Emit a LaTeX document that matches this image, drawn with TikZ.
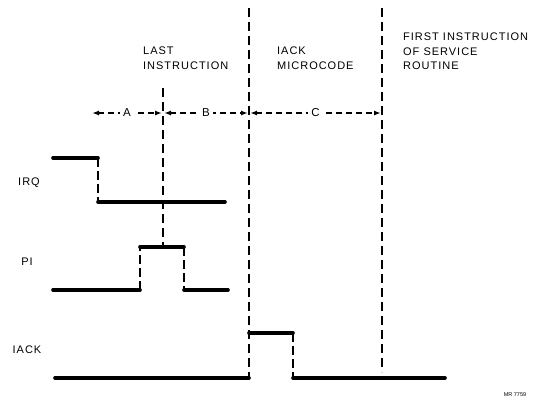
\documentclass[tikz,border=0pt]{standalone}
\usepackage{fontspec}
\setmainfont{Liberation Sans}
\newfontfamily\spacedfont{Liberation Sans}[LetterSpace=9]
\usetikzlibrary{arrows.meta, positioning}
\tikzset{
  sigline/.style={line width=3.6pt, line cap=round},
  sigedge/.style={line width=2.6pt, dash pattern=on 9pt off 4pt},
  guide/.style={line width=2.6pt, dash pattern=on 9pt off 5pt},
  span/.style={{Latex[length=7pt,width=5pt]}-{Latex[length=7pt,width=5pt]},
               line width=1.8pt, dash pattern=on 6pt off 4pt},
  spanlbl/.style={fill=white, inner sep=3pt, font=\fontsize{11.5}{13}\selectfont},
  phase/.style={anchor=north west, align=left, inner sep=0pt,
                font=\spacedfont\fontsize{11}{14.5}\selectfont},
  siglbl/.style={inner sep=0pt, font=\spacedfont\fontsize{11}{13}\selectfont},
}

\begin{document}
\begin{tikzpicture}[x=1pt, y=-1pt]
  \useasboundingbox (0,0) rectangle (538,400);

  %% Phase boundaries
  \coordinate (t1) at (163,113);
  \coordinate (t2) at (249,113);
  \coordinate (t3) at (382,113);
  \draw[guide] (163,88) -- (163,247);
  \draw[guide] (249,8) -- (249,378);
  \draw[guide] (382,8) -- (382,372);

  %% Phase titles
  \node[phase] (last) at (143,47) {LAST\\INSTRUCTION};
  \node[phase] (micro) at (277,47) {IACK\\MICROCODE};
  \node[phase] (first) at (403,33) {FIRST INSTRUCTION\\OF SERVICE\\ROUTINE};

  %% Intervals
  \coordinate (t0) at (92,113);
  \draw[span] (t0) -- node[spanlbl] (la) {A} ([xshift=-1pt]t1);
  \draw[span] ([xshift=1pt]t1) -- node[spanlbl] (lb) {B} ([xshift=-1pt]t2);
  \draw[span] ([xshift=1pt]t2) -- node[spanlbl] (lc) {C} ([xshift=-1pt]t3);

  %% IRQ
  \node[siglbl] (irq) at (29,183) {IRQ};
  \draw[sigline] (53,158) -- (98,158);
  \draw[sigedge] (98,158) -- (98,202);
  \draw[sigline] (98,202) -- (225,202);

  %% PI
  \node[siglbl] (pi) at (27,262) {PI};
  \draw[sigline] (53,290) -- (140,290);
  \draw[sigedge] (140,290) -- (140,247);
  \draw[sigline] (140,247) -- (184,247);
  \draw[sigedge] (184,247) -- (184,290);
  \draw[sigline] (184,290) -- (228,290);

  %% IACK
  \node[siglbl] (iack) at (27,350) {IACK};
  \draw[sigline] (55,378) -- (249,378);
  \draw[sigline] (249,333) -- (293,333);
  \draw[sigedge] (293,333) -- (293,378);
  \draw[sigline] (293,378) -- (445,378);

  \node[font=\fontsize{5.5}{6}\selectfont, inner sep=0pt] (tag) at (515,395) {MR 7759};
\end{tikzpicture}
\end{document}
